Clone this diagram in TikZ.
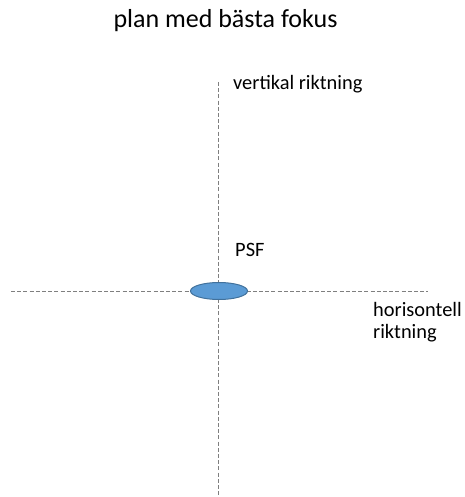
\documentclass[tikz,border=0pt]{standalone}
\usepackage{fontspec}
\setmainfont{Carlito}
\usetikzlibrary{positioning, shapes.geometric}
\definecolor{c1}{HTML}{5B9BD5}
\definecolor{c2}{HTML}{41719C}
\definecolor{axiscolor}{HTML}{7F7F7F}

\begin{document}
\begin{tikzpicture}[x=1pt, y=-1pt,
    lab/.style={font=\fontsize{20.4}{21.5}\selectfont, text=black, inner sep=0pt},
    ttl/.style={font=\fontsize{26}{30}\selectfont, text=black, inner sep=0pt},
    axis/.style={axiscolor, line width=1pt, dash pattern=on 4pt off 2.2pt},
    spot/.style={ellipse, fill=c1, draw=c2, line width=1pt, minimum width=57pt, minimum height=17pt, inner sep=0pt},
]
\useasboundingbox (0,0) rectangle (464,497);

\node[ttl, anchor=base] (title) at (225.5, 28) {plan med bästa fokus};

% the two directions through the focus
\coordinate (top) at (218.5, 82);
\coordinate (bottom) at (218.5, 497);
\coordinate (left) at (11, 291);
\coordinate (right) at (428, 291);
\draw[axis] (top) -- (bottom);
\draw[axis] (left) -- (right);

% the spot itself
\node[spot] (psf) at (219, 291) {};

\node[lab, anchor=base west] (vert) at (233, 90) {vertikal riktning};
\node[lab, anchor=base west] (psflab) at (235, 256) {PSF};
\node[lab, anchor=base west] (hor) at (373, 316.5) {horisontell};
\node[lab, anchor=base west] (hor2) at (373, 338) {riktning};
\end{tikzpicture}
\end{document}
